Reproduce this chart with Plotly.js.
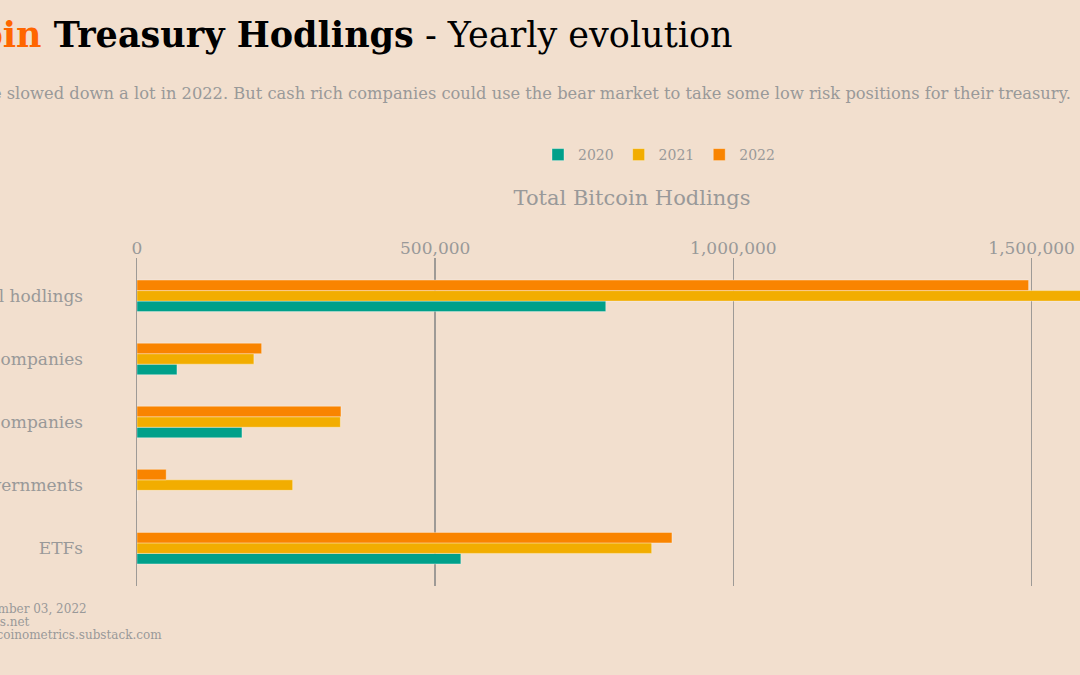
<!DOCTYPE html>
<html>
<head>
<meta charset="utf-8">
<script src="https://cdn.plot.ly/plotly-3.0.1.min.js"></script>
<style>
  html, body { margin: 0; padding: 0; width: 1080px; height: 675px; overflow: hidden; background: #F2DFCE; }
  #chart { position: absolute; left: -140px; top: 0; width: 1400px; height: 675px; }
</style>
</head>
<body>
<div id="chart"></div>
<script>
// Categories, shown from top to bottom
const categories = ['Total hodlings', 'Public companies', 'Private companies', 'Governments', 'ETFs'];
const years = ['2020', '2021', '2022'];
const values2020 = [786000, 67000, 176000, 0, 543000];
const values2021 = [1661000, 196000, 341000, 261000, 863000];
const values2022 = [1495000, 209000, 342000, 49000, 897000];
const colors = ['#00A08A', '#F2AD00', '#F98400'];
const titleText = '<b><span style="color:#FF6600">Bitcoin</span> Treasury Hodlings</b> - Yearly evolution';
const subtitleText = 'Treasury purchases have slowed down a lot in 2022. But cash rich companies could use the bear market to take some low risk positions for their treasury.';
const footerLines = ['Last data update: September 03, 2022', 'Source: bitcointreasuries.net', 'Chart: Ecoinometrics, ecoinometrics.substack.com'];
const axisTitle = 'Total Bitcoin Hodlings';

const serif = 'Georgia, "DejaVu Serif", serif';
const grey = '#999999';
const series = [values2020, values2021, values2022];

const traces = series.map((vals, i) => ({
  type: 'bar',
  orientation: 'h',
  name: years[i],
  x: vals,
  y: categories,
  marker: { color: colors[i], line: { color: 'rgba(255,255,255,0.35)', width: 1 } },
  hoverinfo: 'x+name'
}));

// plot area geometry (screen px): left edge of plot, width, bottom, height
const plotLeft = 137.3, plotW = 990, plotBottom = 586, plotH = 328;
const toPx = (sx) => (sx - plotLeft) / plotW;
const toPy = (sy) => (plotBottom - sy) / plotH;

// footer lines share a left edge; the longest line ends at x=161
const ctx = document.createElement('canvas').getContext('2d');
ctx.font = '12px ' + serif;
const footerLeft = 161 - ctx.measureText(footerLines[2]).width;
const footerY = [609, 622, 635];
const footerAnnotations = footerLines.map((t, i) => ({
  text: t, xref: 'paper', yref: 'paper',
  x: toPx(footerLeft), xanchor: 'left',
  y: toPy(footerY[i]), yanchor: 'middle',
  showarrow: false, borderpad: 0,
  font: { family: serif, size: 12, color: grey }
}));

const layout = {
  width: 1400,
  height: 675,
  paper_bgcolor: '#F2DFCE',
  plot_bgcolor: '#F2DFCE',
  margin: { l: 277, r: 133, t: 258, b: 89, pad: 0 },
  barmode: 'group',
  bargap: 0.5,
  bargroupgap: 0,
  font: { family: serif, color: grey },
  title: {
    text: titleText,
    font: { family: serif, size: 35, color: '#000000' },
    xref: 'container', x: 0.0279, xanchor: 'left',
    yref: 'container', y: 1 - 35 / 675, yanchor: 'middle'
  },
  showlegend: true,
  legend: {
    orientation: 'h',
    traceorder: 'normal',
    xref: 'container', x: 0.5707, xanchor: 'center',
    yref: 'container', y: 1 - 155 / 675, yanchor: 'middle',
    font: { family: serif, size: 14, color: grey },
    bgcolor: 'rgba(0,0,0,0)'
  },
  xaxis: {
    side: 'top',
    range: [0, 1660000],
    dtick: 500000,
    tickformat: ',',
    showgrid: true,
    gridcolor: '#9E9A96',
    gridwidth: 1.5,
    zeroline: false,
    showline: false,
    ticks: '',
    tickfont: { family: serif, size: 17, color: grey },
    title: { text: axisTitle, font: { family: serif, size: 21, color: grey }, standoff: 26 },
    fixedrange: true
  },
  yaxis: {
    categoryorder: 'array',
    categoryarray: categories.slice().reverse(),
    range: [-0.6, 4.6],
    showgrid: false,
    zeroline: false,
    showline: true,
    linecolor: '#9E9A96',
    linewidth: 1.5,
    ticks: '',
    ticklabelstandoff: 49,
    tickfont: { family: serif, size: 17, color: grey },
    fixedrange: true
  },
  annotations: [
    {
      text: subtitleText,
      xref: 'paper', yref: 'paper',
      x: toPx(1073), xanchor: 'right',
      y: toPy(93), yanchor: 'middle',
      showarrow: false,
      font: { family: serif, size: 16.3, color: grey }
    }
  ].concat(footerAnnotations)
};

Plotly.newPlot('chart', traces, layout, { staticPlot: true, displayModeBar: false });
</script>
</body>
</html>
